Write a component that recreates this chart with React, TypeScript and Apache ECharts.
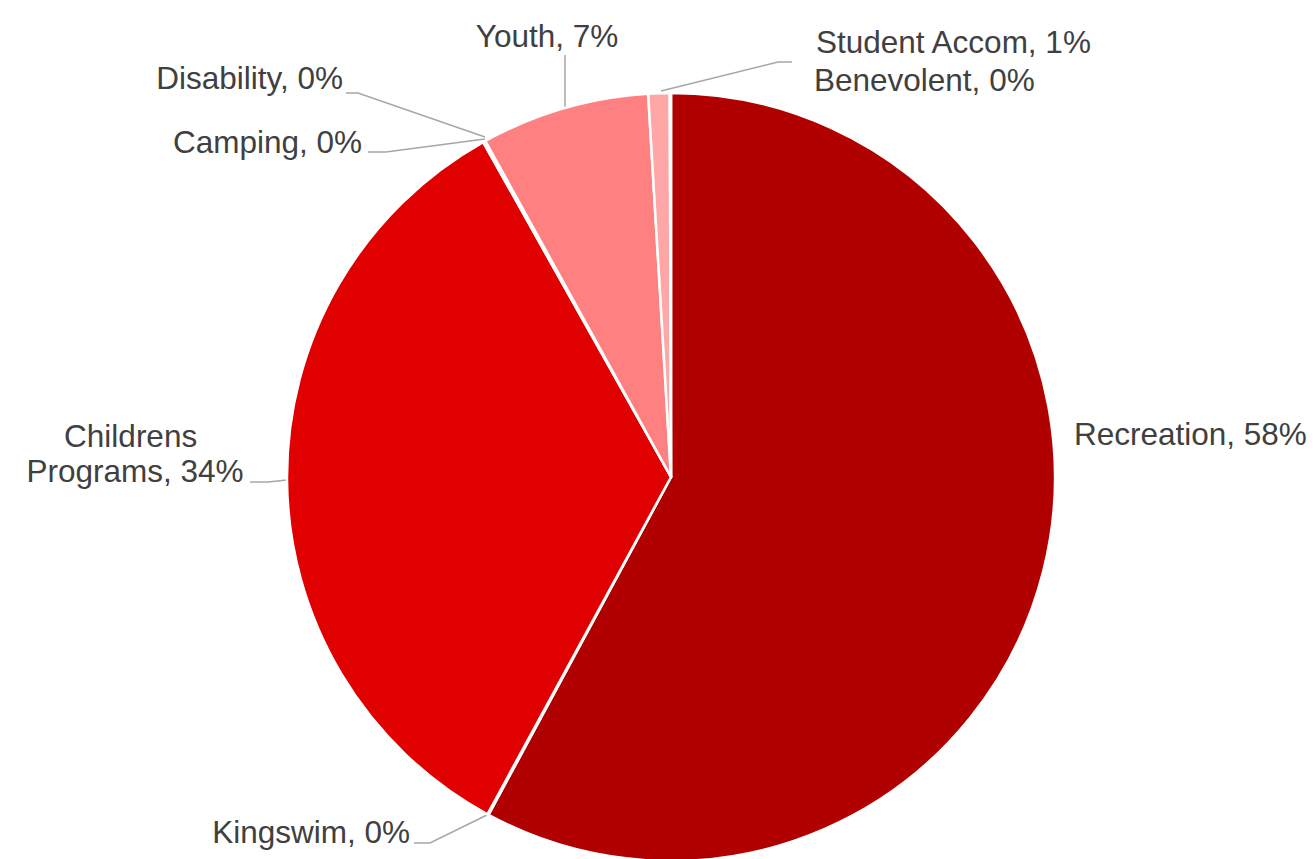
import React, { useEffect, useRef } from "react";
import * as echarts from "echarts";

const categories = [
  "Recreation",
  "Kingswim",
  "Childrens Programs",
  "Camping",
  "Disability",
  "Youth",
  "Student Accom",
  "Benevolent",
];
const values = [58.0, 0.05, 34.0, 0.05, 0.05, 7.1, 0.9, 0.05];
const colors = ["#B00000", "#C00000", "#E00000", "#F04040", "#FF6060", "#FF8080", "#FFA6A6", "#FFC0C0"];

type Placement = {
  x: number;
  y: number;
  align: "left" | "right" | "center";
  line?: number[][];
};

const placements: Placement[] = [
  { x: 1074, y: 434, align: "left" },
  { x: 410, y: 832, align: "right", line: [[487, 815], [430, 843], [414, 843]] },
  { x: 135, y: 453, align: "center", line: [[287, 480], [268, 482], [250, 482]] },
  { x: 362, y: 142, align: "right", line: [[485, 139], [386, 152], [368, 152]] },
  { x: 343, y: 78, align: "right", line: [[485, 137], [358, 93], [346, 93]] },
  { x: 547, y: 36, align: "center", line: [[565, 108], [565, 55]] },
  { x: 816, y: 42, align: "left", line: [[661, 91], [778, 62], [792, 62]] },
  { x: 814, y: 80, align: "left" },
];

export default function App() {
  const ref = useRef<HTMLDivElement>(null);

  useEffect(() => {
    if (!ref.current) return;
    const chart = echarts.init(ref.current, undefined, { renderer: "svg" });
    chart.setOption({
      animation: false,
      backgroundColor: "#FFFFFF",
      series: [
        {
          type: "pie",
          center: [671, 477],
          radius: 384,
          startAngle: 90,
          clockwise: true,
          minAngle: 0,
          avoidLabelOverlap: false,
          itemStyle: { borderColor: "#FFFFFF", borderWidth: 2.5 },
          label: {
            show: true,
            position: "outside",
            color: "#404040",
            fontFamily: "Arial, 'Liberation Sans', sans-serif",
            fontSize: 31.5,
            lineHeight: 35,
            formatter: (p: any) => `${p.name}, ${Math.round(p.percent)}%`,
          },
          labelLine: {
            show: true,
            lineStyle: { color: "#A6A6A6", width: 1.5 },
          },
          labelLayout: (params: any) => {
            const p = placements[params.dataIndex];
            const out: any = {
              x: p.x,
              y: p.y,
              align: p.align,
              verticalAlign: "middle",
            };
            if (p.line) out.labelLinePoints = p.line;
            return out;
          },
          data: categories.map((name, i) => {
            const item: any = {
              name,
              value: values[i],
              itemStyle: { color: colors[i] },
            };
            if (!placements[i].line) item.labelLine = { show: false };
            if (name === "Childrens Programs") {
              item.label = { width: 230, overflow: "break" };
            }
            return item;
          }),
        },
      ],
    });
    return () => chart.dispose();
  }, []);

  return (
    <div
      ref={ref}
      style={{ position: "fixed", left: 0, top: 0, width: 1313, height: 859 }}
    />
  );
}
